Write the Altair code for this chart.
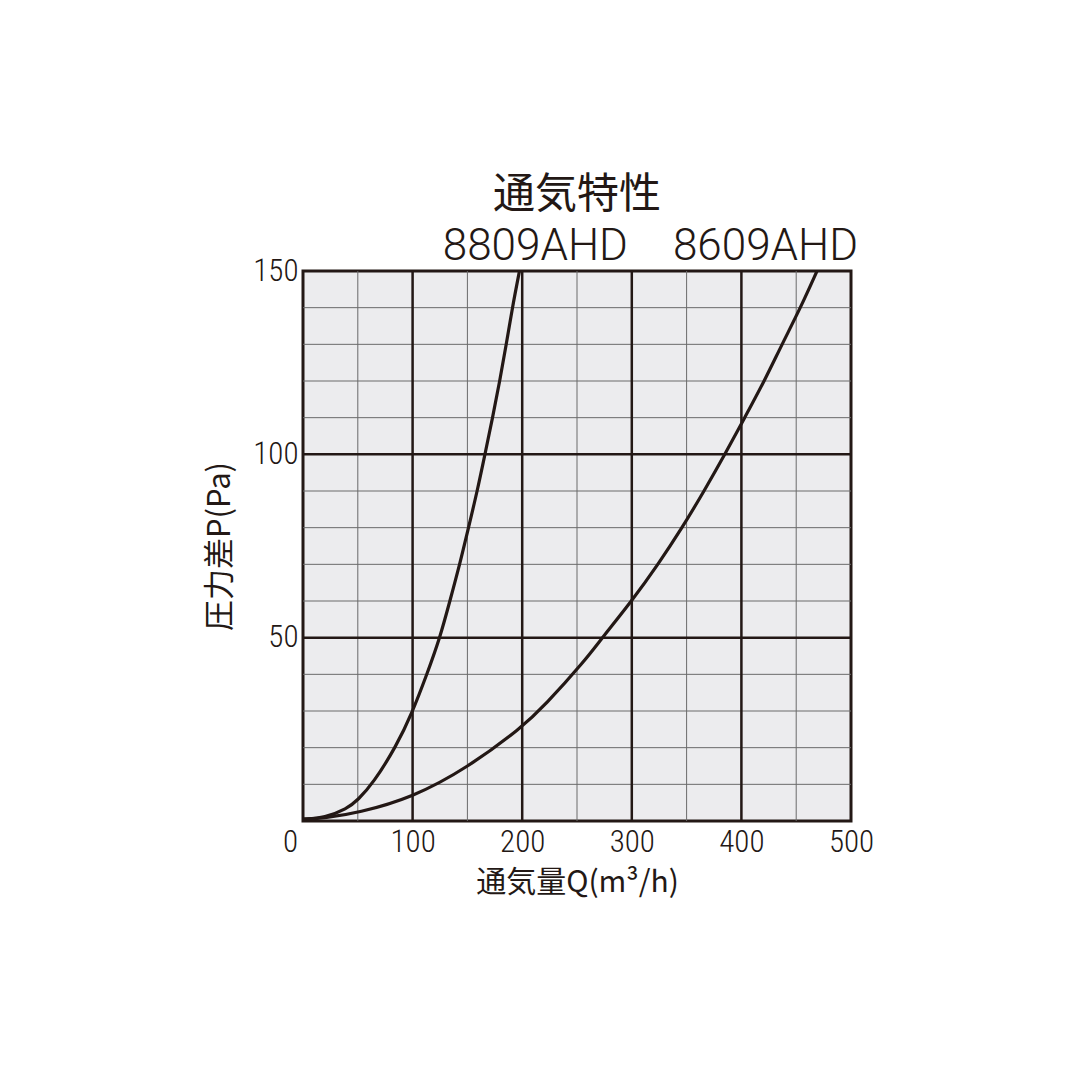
import altair as alt
import pandas as pd

# 8809AHD curve (Q m3/h, P Pa)
q_8809 = [0, 20, 40, 50, 64, 85, 100, 113, 125, 134, 143, 151, 159, 166, 173, 179.5, 185.5, 191, 197.5]
p_8809 = [0.5, 0.9, 3.3, 5.7, 10.3, 20.3, 29.8, 40, 50, 60, 70, 80, 90, 100, 110, 120, 130, 140, 150]
# 8609AHD curve
q_8609 = [0, 20, 50, 100, 150, 200, 220, 258, 273, 300, 324, 346, 366, 385, 403, 421, 437, 454, 469]
p_8609 = [0.5, 0.8, 2.2, 6.4, 14.5, 25.6, 31.3, 44, 50, 60, 70, 80, 90, 100, 110, 120, 130, 140, 150]

minor_x = [50, 150, 250, 350, 450]
major_x = [100, 200, 300, 400]
minor_y = [10, 20, 30, 40, 60, 70, 80, 90, 110, 120, 130, 140]
major_y = [50, 100]

x_ticks = [0, 100, 200, 300, 400, 500]
y_ticks = [50, 100, 150]

label_names = ["8809AHD", "8609AHD"]
label_q = [212, 422]
label_p = [156.5, 156.5]

INK = "#231815"
JP = "Noto Sans CJK JP"
NUM = "Roboto Condensed, Liberation Sans Narrow, Roboto, sans-serif"

curves = pd.concat([
    pd.DataFrame({"Q": q_8809, "P": p_8809, "model": "8809AHD"}),
    pd.DataFrame({"Q": q_8609, "P": p_8609, "model": "8609AHD"}),
])

xs = alt.Scale(domain=[0, 500], nice=False, zero=True)
ys = alt.Scale(domain=[0, 150], nice=False, zero=True)

x_axis = alt.Axis(
    values=x_ticks, title="通気量Q(m³/h)", grid=False, ticks=False, domain=False,
    labelFont=NUM, labelFontSize=31, labelFontWeight=300, labelColor=INK, labelPadding=6,
    labelFlush=False,
    labelOffset={"condition": {"test": "datum.value === 0", "value": -13}, "value": 0},
    titleFont=JP, titleFontSize=30, titleFontWeight="normal", titleColor=INK, titlePadding=10)
y_axis = alt.Axis(
    values=y_ticks, title="圧力差P(Pa)", grid=False, ticks=False, domain=False,
    labelFont=NUM, labelFontSize=31, labelFontWeight=300, labelColor=INK, labelPadding=5,
    labelFlush=False,
    titleFont=JP, titleFontSize=31, titleFontWeight="normal", titleColor=INK, titlePadding=16)

minor_v = alt.Chart(pd.DataFrame({"v": minor_x})).mark_rule(color="#6a6a6a", strokeWidth=1).encode(
    x=alt.X("v:Q", scale=xs, axis=x_axis))
major_v = alt.Chart(pd.DataFrame({"v": major_x})).mark_rule(color=INK, strokeWidth=2.5).encode(
    x=alt.X("v:Q", scale=xs, axis=x_axis))
minor_h = alt.Chart(pd.DataFrame({"v": minor_y})).mark_rule(color="#6a6a6a", strokeWidth=1).encode(
    y=alt.Y("v:Q", scale=ys, axis=y_axis))
major_h = alt.Chart(pd.DataFrame({"v": major_y})).mark_rule(color=INK, strokeWidth=2.5).encode(
    y=alt.Y("v:Q", scale=ys, axis=y_axis))

lines = alt.Chart(curves).mark_line(color=INK, strokeWidth=3.2, interpolate="basis").encode(
    x=alt.X("Q:Q", scale=xs, axis=x_axis),
    y=alt.Y("P:Q", scale=ys, axis=y_axis),
    detail="model:N",
)

labels = alt.Chart(pd.DataFrame({"name": label_names, "Q": label_q, "P": label_p})).mark_text(
    font="Roboto", fontSize=44, fontWeight=300, color=INK, align="center", baseline="middle"
).encode(x=alt.X("Q:Q", scale=xs, axis=x_axis), y=alt.Y("P:Q", scale=ys, axis=y_axis), text="name:N")

chart = alt.layer(minor_v, minor_h, major_v, major_h, lines, labels).properties(
    width=548, height=550,
    title=alt.TitleParams("通気特性", font=JP, fontSize=42, fontWeight="normal", color=INK,
                          anchor="middle", frame="group", offset=8),
    padding={"left": 295, "top": 263, "right": 40, "bottom": 120},
    autosize=alt.AutoSizeParams(type="none"),
    background="white",
).configure_view(fill="#ececee", stroke=INK, strokeWidth=3)

chart.save("out.html", embed_options={"renderer": "svg", "actions": False})
